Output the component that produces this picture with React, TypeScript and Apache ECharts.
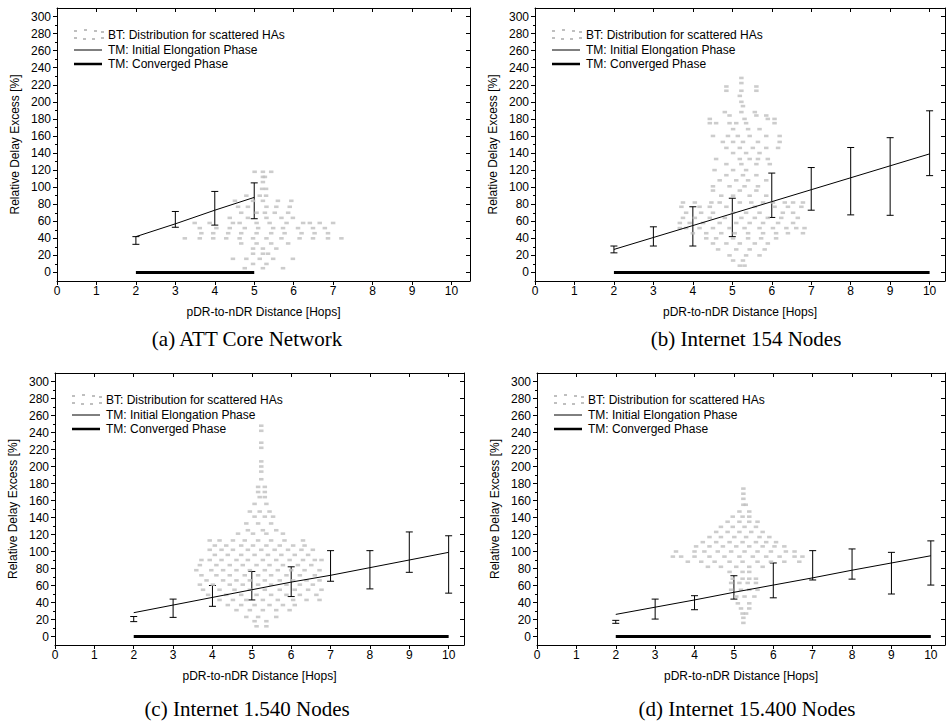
import React, { useEffect, useRef } from "react";
import * as echarts from "echarts";

// ---------- tick labels ----------
const X_TICKS = [0, 1, 2, 3, 4, 5, 6, 7, 8, 9, 10];
const Y_TICKS = [0, 20, 40, 60, 80, 100, 120, 140, 160, 180, 200, 220, 240, 260, 280, 300];
const Y_MINOR = [10, 30, 50, 70, 90, 110, 130, 150, 170, 190, 210, 230, 250, 270, 290];

const X_NAME = "pDR-to-nDR Distance [Hops]";
const Y_NAME = "Relative Delay Excess [%]";
const LEGEND_NAMES = ["BT: Distribution for scattered HAs", "TM: Initial Elongation Phase", "TM: Converged Phase"];
const CAPTIONS = ["(a) ATT Core Network", "(b) Internet 154 Nodes", "(c) Internet 1.540 Nodes", "(d) Internet 15.400 Nodes"];

// ---------- TM series (hops, line value, error bar low/high) ----------
const hopsA = [2, 3, 4, 5];
const initialA = [42, 57, 73, 88];
const errLowA = [33, 53, 55.5, 63];
const errHighA = [42, 71.5, 95, 105];
const convergedA = [0, 0, 0, 0];

const hopsB = [2, 3, 4, 5, 6, 7, 8, 9, 10];
const initialB = [27, 41, 55, 69, 83, 97, 111, 125, 139];
const errLowB = [23, 31, 31, 42, 64.5, 73, 67.5, 67, 113.5];
const errHighB = [31, 53.5, 77, 87, 116.5, 123, 146.5, 158, 189.5];
const convergedB = [0, 0, 0, 0, 0, 0, 0, 0, 0];

const hopsC = [2, 3, 4, 5, 6, 7, 8, 9, 10];
const initialC = [28, 37, 46, 55, 64, 72, 81, 90, 99];
const errLowC = [17.5, 22.5, 35.5, 43, 47, 65, 56, 75.5, 51];
const errHighC = [23.5, 44, 60, 76.5, 82, 101, 101, 123, 118.5];
const convergedC = [0, 0, 0, 0, 0, 0, 0, 0, 0];

const hopsD = [2, 3, 4, 5, 6, 7, 8, 9, 10];
const initialD = [26, 34.5, 43, 52, 60.5, 69, 78, 86.5, 95];
const errLowD = [15.5, 20.5, 31.5, 44, 45.5, 66.5, 67.5, 50, 60.5];
const errHighD = [19, 44, 48, 71.5, 86.5, 101, 103, 99, 112.5];
const convergedD = [0, 0, 0, 0, 0, 0, 0, 0, 0];

// ---------- BT scatter: rows of [delay %, hop positions] ----------
const btRowsA: [number, number[]][] = [
  [118, [5.01, 5.22, 5.43]],
  [112, [5.22, 5.27]],
  [106, [5.22]],
  [98, [5.2, 5.3]],
  [90, [4.8, 5.14, 5.3]],
  [84, [4.51, 4.97, 5.22, 5.6, 5.94]],
  [77, [4.59, 4.84, 5.31, 5.56, 5.9]],
  [70, [4.67, 5.06, 5.27, 5.52, 5.86]],
  [64, [4.38, 4.84, 5.31, 5.69, 5.98]],
  [58, [3.49, 3.87, 4.46, 4.63, 5.06, 5.39, 5.82, 6.24, 6.41, 6.66, 7.0]],
  [52, [3.62, 4.04, 4.38, 4.76, 5.1, 5.48, 5.73, 6.11, 6.49, 6.79]],
  [46, [3.66, 3.96, 4.34, 4.67, 5.06, 5.43, 5.77, 6.2, 6.53, 6.87]],
  [40, [3.24, 3.62, 3.96, 4.29, 4.63, 4.97, 5.31, 5.69, 6.15, 6.49, 6.87, 7.21]],
  [34, [4.67, 5.06, 5.43, 5.86]],
  [28, [4.97, 5.22, 5.56]],
  [22, [4.97, 5.22, 5.35]],
  [16, [4.46, 4.8, 5.14, 5.48, 5.98]],
  [10, [4.97, 5.31]],
  [5, [4.76, 5.22, 5.73]],
];

const btRowsB: [number, number[]][] = [
  [228, [5.23]],
  [222, [5.23]],
  [218, [4.85, 5.61]],
  [213, [4.85, 5.23, 5.61]],
  [207, [5.19]],
  [200, [5.23]],
  [195, [5.27]],
  [188, [4.81, 5.23, 5.57]],
  [184, [4.93, 5.61, 5.86]],
  [180, [4.43, 5.31, 5.9, 6.07]],
  [175, [4.43, 4.59, 4.93, 5.1, 5.35, 6.07]],
  [168, [5.02, 5.4, 5.69]],
  [160, [4.51, 4.89, 5.14, 5.44, 5.86, 6.2]],
  [153, [4.76, 5.02, 5.27, 5.65, 6.2]],
  [146, [4.85, 5.19, 5.52, 5.86, 6.16]],
  [140, [5.02, 5.35, 5.69]],
  [133, [4.59, 5.19, 5.44, 5.65, 5.9]],
  [127, [4.85, 5.23, 5.61, 5.95]],
  [120, [4.55, 5.02, 5.35]],
  [114, [4.85, 5.27, 5.61]],
  [108, [4.68, 5.1, 5.4, 5.86]],
  [101, [4.51, 4.93, 5.31, 5.65]],
  [96, [4.51, 5.19, 5.61]],
  [90, [4.72, 5.02, 5.44, 5.86]],
  [82, [3.75, 4.05, 4.47, 4.68, 5.19, 5.48, 5.78, 6.03, 6.33, 6.54, 6.79]],
  [77, [3.71, 4.17, 4.43, 4.85, 5.57, 6.07, 6.41, 6.75]],
  [70, [3.83, 4.21, 4.51, 5.02, 5.35, 5.69, 6.28, 6.54]],
  [64, [3.75, 4.05, 4.43, 4.81, 5.23, 5.57, 5.9, 6.24, 6.66]],
  [58, [3.67, 3.92, 4.26, 4.68, 5.1, 5.44, 5.78, 6.16, 6.54]],
  [52, [3.67, 3.83, 4.17, 4.51, 4.93, 5.31, 5.69, 6.03, 6.37, 6.62, 6.83]],
  [46, [4.0, 4.34, 4.72, 5.06, 5.4, 5.78, 6.11, 6.41, 6.79]],
  [40, [4.34, 4.59, 5.02, 5.4, 5.73, 6.11]],
  [34, [4.51, 4.85, 5.19, 5.57, 5.9]],
  [27, [4.64, 5.1, 5.44, 5.82]],
  [20, [4.93, 5.35, 5.69]],
  [14, [5.02, 5.27]],
  [8, [5.19, 5.31]],
];

const btRowsC: [number, number[]][] = [
  [248, [5.24]],
  [242, [5.24]],
  [228, [5.24]],
  [222, [5.24]],
  [206, [5.24]],
  [200, [5.24]],
  [194, [5.24]],
  [185, [5.24]],
  [176, [5.16, 5.33]],
  [170, [5.16, 5.33]],
  [164, [5.2, 5.33]],
  [156, [5.07, 5.37]],
  [147, [4.95, 5.2, 5.45]],
  [141, [5.07, 5.33, 5.54]],
  [133, [4.86, 5.16, 5.49]],
  [125, [4.9, 5.28, 5.62]],
  [121, [4.65, 5.03, 5.37, 5.79]],
  [113, [3.93, 4.18, 4.52, 4.82, 5.16, 5.49, 5.83, 6.3]],
  [107, [4.06, 4.35, 4.73, 5.03, 5.37, 5.71, 6.05, 6.34]],
  [102, [3.93, 4.23, 4.52, 4.9, 5.24, 5.58, 5.92, 6.26, 6.55]],
  [96, [4.06, 4.39, 4.73, 5.07, 5.41, 5.75, 6.09, 6.43]],
  [90, [3.72, 3.93, 4.23, 4.61, 4.9, 5.28, 5.62, 5.96, 6.3, 6.6, 6.77]],
  [84, [3.68, 4.1, 4.44, 4.77, 5.12, 5.45, 5.79, 6.17, 6.51]],
  [78, [3.59, 3.97, 4.27, 4.61, 4.95, 5.33, 5.66, 6.0, 6.34, 6.72]],
  [72, [3.72, 4.1, 4.44, 4.82, 5.16, 5.49, 5.88, 6.22, 6.6]],
  [66, [3.85, 4.27, 4.61, 4.95, 5.33, 5.71, 6.05, 6.39, 6.72]],
  [61, [3.68, 4.01, 4.44, 4.77, 5.16, 5.49, 5.88, 6.22, 6.55]],
  [55, [3.76, 4.18, 4.56, 4.95, 5.33, 5.71, 6.09, 6.43, 6.77]],
  [49, [3.89, 4.35, 4.73, 5.12, 5.49, 5.88, 6.22, 6.64]],
  [43, [4.18, 4.52, 4.86, 5.28, 5.66, 6.05, 6.39, 6.72]],
  [37, [4.39, 4.73, 5.07, 5.45, 5.79, 6.09]],
  [31, [4.61, 4.95, 5.28, 5.62, 5.96]],
  [23, [4.86, 5.16, 5.62]],
  [18, [5.07, 5.37]],
  [12, [5.12, 5.37]],
];

const btRowsD: [number, number[]][] = [
  [174, [5.24]],
  [168, [5.24]],
  [162, [5.24]],
  [155, [5.24, 5.3]],
  [147, [5.14, 5.39]],
  [141, [4.97, 5.22, 5.39]],
  [135, [4.84, 5.14, 5.39, 5.6]],
  [129, [4.67, 4.97, 5.27, 5.56]],
  [123, [4.55, 4.84, 5.14, 5.44, 5.73]],
  [117, [4.38, 4.67, 5.01, 5.31, 5.65, 5.9]],
  [111, [4.21, 4.55, 4.89, 5.22, 5.56, 5.82, 6.07]],
  [106, [4.04, 4.38, 4.72, 5.06, 5.39, 5.73, 6.03, 6.28]],
  [100, [3.53, 4.0, 4.25, 4.59, 4.93, 5.27, 5.6, 5.94, 6.32, 6.54]],
  [94, [3.45, 3.66, 4.0, 4.38, 4.76, 5.14, 5.48, 5.82, 6.16, 6.54, 6.74]],
  [88, [3.83, 4.17, 4.51, 4.89, 5.22, 5.6, 5.94, 6.28, 6.66]],
  [82, [4.34, 4.67, 5.06, 5.39, 5.73]],
  [76, [4.89, 5.22, 5.39]],
  [68, [4.97, 5.22, 5.39, 5.56]],
  [63, [4.93, 5.14, 5.35, 5.56]],
  [55, [4.93, 5.18, 5.39, 5.6]],
  [47, [5.06, 5.27, 5.52]],
  [39, [5.1, 5.39]],
  [33, [5.18, 5.39]],
  [27, [5.22, 5.31]],
  [22, [5.24]],
  [16, [5.24]],
];

// ---------- layout (styles only) ----------
const FONT_SANS = '"Liberation Sans", Arial, Helvetica, sans-serif';
const FONT_SERIF = '"Liberation Serif", "Times New Roman", Times, serif';
const DOT_COLOR = "#bfbfbf";

type PanelDef = {
  left: number; top: number; width: number; height: number; xMax: number;
  hops: number[]; initial: number[]; lo: number[]; hi: number[]; converged: number[];
  rows: [number, number[]][];
  caption: string; capX: number; capY: number;
};

const PANELS: PanelDef[] = [
  { left: 57, top: 8, width: 413, height: 273, xMax: 10.47, hops: hopsA, initial: initialA, lo: errLowA, hi: errHighA, converged: convergedA, rows: btRowsA, caption: CAPTIONS[0], capX: 247, capY: 339 },
  { left: 535, top: 8, width: 410, height: 273, xMax: 10.39, hops: hopsB, initial: initialB, lo: errLowB, hi: errHighB, converged: convergedB, rows: btRowsB, caption: CAPTIONS[1], capX: 746, capY: 339 },
  { left: 55, top: 373, width: 409, height: 272, xMax: 10.39, hops: hopsC, initial: initialC, lo: errLowC, hi: errHighC, converged: convergedC, rows: btRowsC, caption: CAPTIONS[2], capX: 247, capY: 709 },
  { left: 537, top: 373, width: 408, height: 272, xMax: 10.36, hops: hopsD, initial: initialD, lo: errLowD, hi: errHighD, converged: convergedD, rows: btRowsD, caption: CAPTIONS[3], capX: 747, capY: 709 },
];

function buildOption() {
  const grid: any[] = [];
  const xAxis: any[] = [];
  const yAxis: any[] = [];
  const series: any[] = [];
  const graphic: any[] = [];

  PANELS.forEach((p, i) => {
    grid.push({ left: p.left, top: p.top, width: p.width, height: p.height, containLabel: false });
    const axisLine = { show: true, onZero: false, lineStyle: { color: "#000", width: 1 } };
    xAxis.push({
      type: "value", gridIndex: i, position: "bottom", min: 0, max: p.xMax,
      axisLine,
      axisTick: { show: true, inside: false, length: 4, customValues: X_TICKS, lineStyle: { color: "#000" } },
      axisLabel: { show: true, customValues: X_TICKS, margin: 4, fontSize: 12, color: "#000", fontFamily: FONT_SANS },
      splitLine: { show: false },
      name: X_NAME, nameLocation: "middle", nameGap: 25,
      nameTextStyle: { fontSize: 12, color: "#000", fontFamily: FONT_SANS },
    });
    xAxis.push({
      type: "value", gridIndex: i, position: "top", min: 0, max: p.xMax,
      axisLine,
      axisTick: { show: true, inside: true, length: 4, customValues: X_TICKS, lineStyle: { color: "#000" } },
      axisLabel: { show: false },
      splitLine: { show: false },
    });
    yAxis.push({
      type: "value", gridIndex: i, position: "left", min: -10, max: 310,
      axisLine,
      axisTick: { show: true, inside: false, length: 4, customValues: Y_TICKS, lineStyle: { color: "#000" } },
      axisLabel: { show: true, customValues: Y_TICKS, margin: 6, fontSize: 12, color: "#000", fontFamily: FONT_SANS },
      splitLine: { show: false },
      name: Y_NAME, nameLocation: "middle", nameRotate: 90, nameGap: 36,
      nameTextStyle: { fontSize: 12, color: "#000", fontFamily: FONT_SANS },
    });
    yAxis.push({
      type: "value", gridIndex: i, position: "left", min: -10, max: 310,
      axisLine: { show: false },
      axisTick: { show: true, inside: false, length: 2, customValues: Y_MINOR, lineStyle: { color: "#000" } },
      axisLabel: { show: false },
      splitLine: { show: false },
    });
    yAxis.push({
      type: "value", gridIndex: i, position: "right", min: -10, max: 310,
      axisLine,
      axisTick: { show: true, inside: true, length: 4, customValues: Y_TICKS, lineStyle: { color: "#000" } },
      axisLabel: { show: false },
      splitLine: { show: false },
    });

    const xi = i * 2;
    const yi = i * 3;
    const pts: number[][] = [];
    p.rows.forEach(([y, xs]) => xs.forEach((x) => pts.push([x, y])));

    series.push({
      type: "scatter", name: LEGEND_NAMES[0], xAxisIndex: xi, yAxisIndex: yi,
      data: pts, symbol: "rect", symbolSize: [4.5, 2.6], silent: true,
      itemStyle: { color: DOT_COLOR },
    });
    series.push({
      type: "line", name: LEGEND_NAMES[1], xAxisIndex: xi, yAxisIndex: yi,
      data: p.hops.map((h, k) => [h, p.initial[k]]), symbol: "none", silent: true,
      lineStyle: { color: "#000", width: 1 },
    });
    series.push({
      type: "line", name: LEGEND_NAMES[2], xAxisIndex: xi, yAxisIndex: yi,
      data: p.hops.map((h, k) => [h, p.converged[k]]), symbol: "none", silent: true,
      lineStyle: { color: "#000", width: 3 },
    });
    series.push({
      type: "custom", name: "err" + i, xAxisIndex: xi, yAxisIndex: yi, silent: true,
      data: p.hops.map((h, k) => [h, p.lo[k], p.hi[k]]),
      encode: { x: 0, y: [1, 2] },
      renderItem: (params: any, api: any) => {
        const x = api.value(0);
        const a = api.coord([x, api.value(1)]);
        const b = api.coord([x, api.value(2)]);
        const w = 3.5;
        const style = { stroke: "#000", lineWidth: 1 };
        return {
          type: "group",
          children: [
            { type: "line", shape: { x1: a[0], y1: a[1], x2: b[0], y2: b[1] }, style },
            { type: "line", shape: { x1: a[0] - w, y1: a[1], x2: a[0] + w, y2: a[1] }, style },
            { type: "line", shape: { x1: b[0] - w, y1: b[1], x2: b[0] + w, y2: b[1] }, style },
          ],
        };
      },
    });

    const lx = p.left + 17;
    const tx = p.left + 51;
    const rowsY = [p.top + 27, p.top + 42, p.top + 56];
    const dashes = [
      [0, -4], [10, -5], [20, -4], [27, -3],
      [0, 3], [9, 4], [18, 4], [27, 3],
    ];
    dashes.forEach(([dx, dy]) => {
      graphic.push({ type: "rect", shape: { x: lx + dx, y: rowsY[0] + dy - 1, width: 3, height: 2 }, style: { fill: DOT_COLOR }, silent: true });
    });
    graphic.push({ type: "line", shape: { x1: lx, y1: rowsY[1], x2: lx + 28, y2: rowsY[1] }, style: { stroke: "#000", lineWidth: 1 }, silent: true });
    graphic.push({ type: "line", shape: { x1: lx, y1: rowsY[2], x2: lx + 28, y2: rowsY[2] }, style: { stroke: "#000", lineWidth: 2.5 }, silent: true });
    LEGEND_NAMES.forEach((name, k) => {
      graphic.push({
        type: "text", x: tx, y: rowsY[k], silent: true,
        style: { text: name, fill: "#000", font: `12px ${FONT_SANS}`, align: "left", verticalAlign: "middle", textAlign: "left", textVerticalAlign: "middle" },
      });
    });
    graphic.push({
      type: "text", x: p.capX, y: p.capY, silent: true,
      style: { text: p.caption, fill: "#000", font: `21px ${FONT_SERIF}`, align: "center", verticalAlign: "middle", textAlign: "center", textVerticalAlign: "middle" },
    });
  });

  return { animation: false, backgroundColor: "#fff", grid, xAxis, yAxis, series, graphic };
}

export default function App() {
  const ref = useRef<HTMLDivElement>(null);
  useEffect(() => {
    document.body.style.margin = "0";
    if (!ref.current) return;
    const chart = echarts.init(ref.current, undefined, { renderer: "svg" });
    chart.setOption(buildOption() as any);
    return () => chart.dispose();
  }, []);
  return <div ref={ref} style={{ width: 946, height: 721 }} />;
}
